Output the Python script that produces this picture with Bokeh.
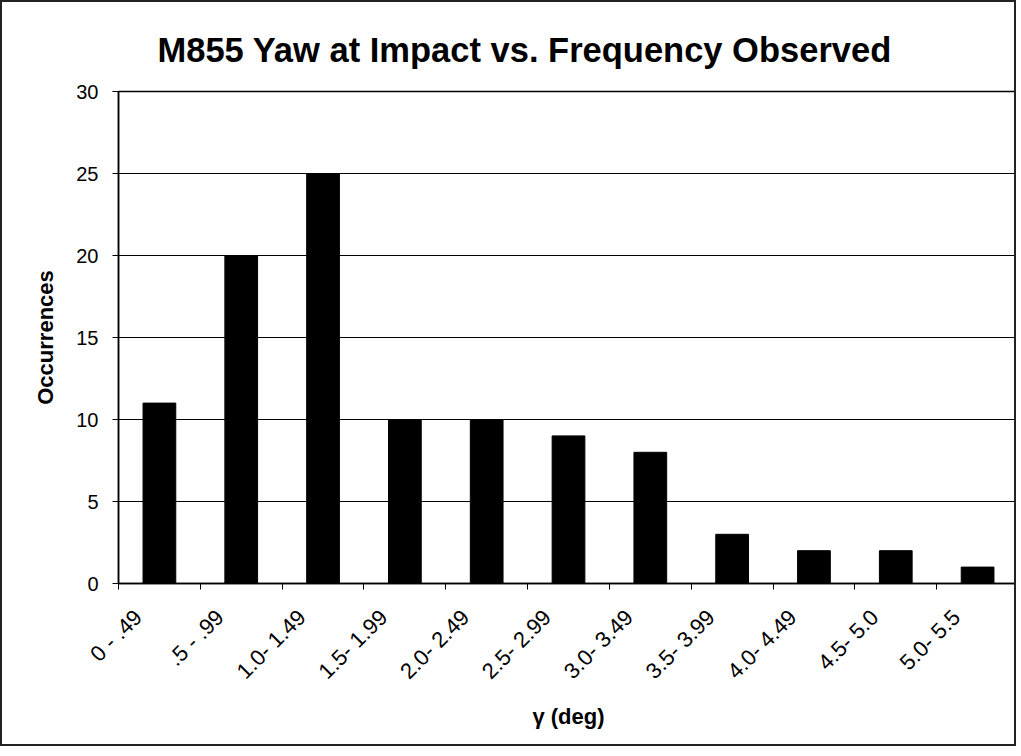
import math
from bokeh.plotting import figure
from bokeh.models import Range1d, FixedTicker, ColumnDataSource
from bokeh.embed import file_html
from bokeh.resources import INLINE

categories = ["0 - .49", ".5 - .99", "1.0- 1.49", "1.5- 1.99", "2.0- 2.49", "2.5- 2.99",
              "3.0- 3.49", "3.5- 3.99", "4.0- 4.49", "4.5- 5.0", "5.0- 5.5"]
occurrences = [11, 20, 25, 10, 10, 9, 8, 3, 2, 2, 1]
y_ticks = [0, 5, 10, 15, 20, 25, 30]

n = len(categories)
centers = [i + 0.5 for i in range(n)]
bounds = list(range(n + 1))
# rotated labels end slightly left of each category centre (as in the original)
label_pos = [c - 0.26 for c in centers]

src = ColumnDataSource(dict(x=centers, top=occurrences))

p = figure(width=1016, height=746, output_backend="svg", toolbar_location=None,
           x_range=Range1d(0, n), y_range=Range1d(0, 30),
           min_border_left=116, min_border_right=0, min_border_top=89, min_border_bottom=165)

p.title.text = "M855 Yaw at Impact vs. Frequency Observed"
p.title.text_font = "Liberation Sans"
p.title.text_font_size = "34.5px"
p.title.text_font_style = "bold"
p.title.text_color = "black"
p.title.align = "left"
p.title.offset = 39
p.title.standoff = 46

p.vbar(x="x", top="top", width=0.4, bottom=0, source=src, fill_color="black", line_color="black")

p.outline_line_color = "black"
p.outline_line_width = 1.5
p.background_fill_color = "white"
p.border_fill_color = "white"

# axes
p.xaxis.ticker = FixedTicker(ticks=label_pos, minor_ticks=bounds)
p.xaxis.major_label_overrides = {c: lab for c, lab in zip(label_pos, categories)}
p.xaxis.major_tick_out = 0
p.xaxis.major_tick_in = 0
p.xaxis.minor_tick_out = 6
p.xaxis.minor_tick_in = 0
p.xaxis.minor_tick_line_color = "black"
p.xaxis.major_label_orientation = math.pi / 4
p.xaxis.major_label_standoff = 24
p.xaxis.major_label_text_font_size = "22px"
p.xaxis.axis_label = "\u03b3 (deg)"

p.yaxis.ticker = FixedTicker(ticks=y_ticks, minor_ticks=[])
p.yaxis.major_tick_out = 6
p.yaxis.major_tick_in = 0
p.yaxis.major_label_standoff = 14
p.yaxis.major_label_text_font_size = "20px"
p.yaxis.axis_label = "Occurrences"
p.yaxis.axis_label_standoff = 15

for ax in (p.xaxis, p.yaxis):
    ax.axis_line_color = "black"
    ax.axis_line_width = 1.5
    ax.major_tick_line_color = "black"
    ax.major_label_text_font = "Liberation Sans"
    ax.major_label_text_color = "black"
    ax.axis_label_text_font = "Liberation Sans"
    ax.axis_label_text_font_style = "bold"
    ax.axis_label_text_font_size = "22px"
    ax.axis_label_text_color = "black"

p.xaxis.axis_label_standoff = 8

p.xgrid.grid_line_color = None
p.ygrid.grid_line_color = "black"
p.ygrid.grid_line_width = 1.2
p.ygrid.ticker = FixedTicker(ticks=y_ticks)

p.styles = {"border": "2px solid #222"}

open("out.html", "w").write(file_html(p, INLINE))
